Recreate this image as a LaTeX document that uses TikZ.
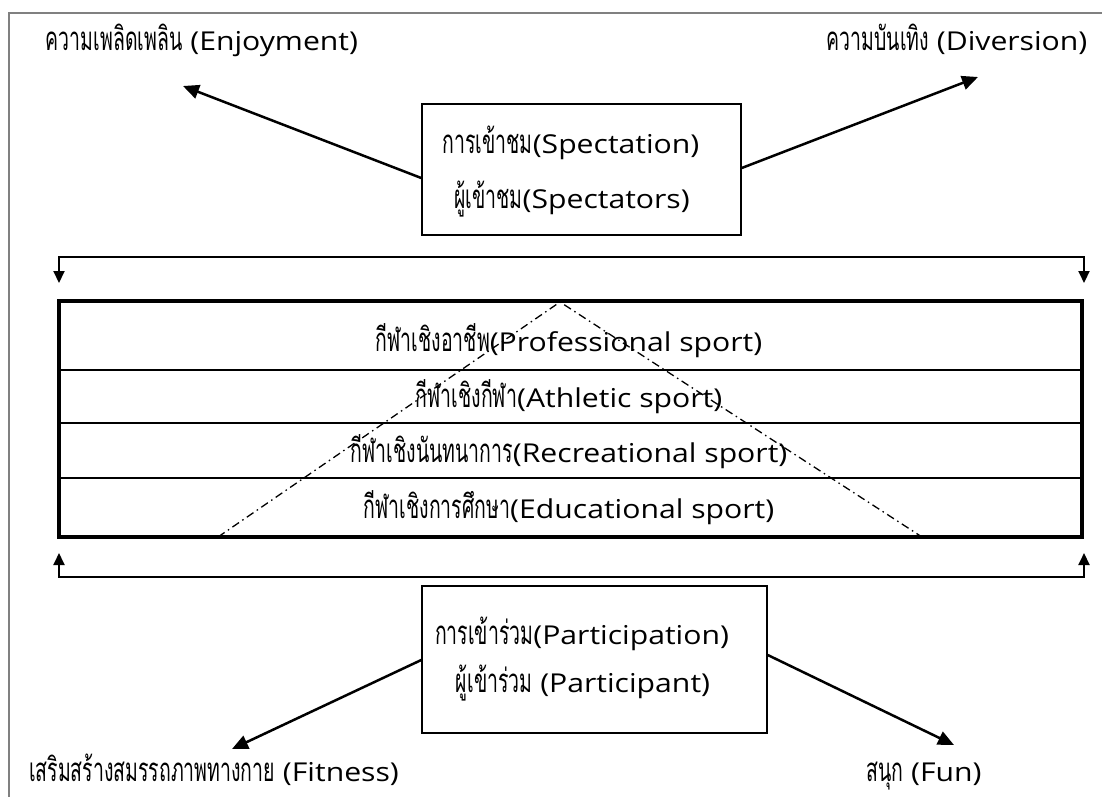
\documentclass[tikz,border=0pt]{standalone}
\usepackage{fontspec}
\newfontfamily\thaifont[Script=Thai,FakeStretch=0.59]{Loma}
\newfontfamily\latfont[FakeStretch=1.16]{Open Sans}
\newcommand\thx[1]{{\thaifont\fontsize{33}{36}\selectfont #1}}
\newcommand\lat[1]{{\latfont\fontsize{26}{30}\selectfont #1}}
\usetikzlibrary{arrows.meta}
\tikzset{
  txt/.style={inner sep=0pt, anchor=base},
  boxnode/.style={draw, line width=1.5pt, inner sep=0pt},
  arr/.style={line width=2.5pt, -{Triangle[length=16pt,width=14pt]}},
  brk/.style={line width=2pt, {Triangle[length=12pt,width=11pt]}-{Triangle[length=12pt,width=11pt]}},
  rowline/.style={line width=1.5pt},
  tri/.style={line width=1.3pt, dash pattern=on 8pt off 4pt on 1.5pt off 4pt},
}
\begin{document}
\begin{tikzpicture}[x=1pt,y=-1pt]
\useasboundingbox (0,0) rectangle (1102,796);
% outer frame (clipped at right and bottom)
\draw[gray, line width=1.5pt] (9,800) -- (9,13) -- (1110,13);

% top texts
\node[txt] (enjoy) at (202,50) {\thx{ความเพลิดเพลิน}\lat{\ (Enjoyment)}};
\node[txt] (divers) at (957,50) {\thx{ความบันเทิง}\lat{\ (Diversion)}};
\coordinate (enjT) at (183,86);
\coordinate (divT) at (978,77);

% spectation box
\node[boxnode, minimum width=319pt, minimum height=131pt] (spect) at (581.5,169.5) {};
\node[txt] (spect1) at (571,153) {\thx{การเข้าชม}\lat{(Spectation)}};
\node[txt] (spect2) at (572,208) {\thx{ผู้เข้าชม}\lat{(Spectators)}};
\draw[arr] ([yshift=-8.5pt]spect.west) -- (enjT);
\draw[arr] ([yshift=1.5pt]spect.east) -- (divT);

% brackets
\coordinate (tbL) at (59,257);
\coordinate (tbR) at (1084,257);
\coordinate (tbLt) at (59,283);
\coordinate (tbRt) at (1084,283);
\draw[brk] (tbLt) -- (tbL) -- (tbR) -- (tbRt);
\coordinate (bbL) at (59,577);
\coordinate (bbR) at (1084,577);
\coordinate (bbLt) at (59,553);
\coordinate (bbRt) at (1084,553);
\draw[brk] (bbLt) -- (bbL) -- (bbR) -- (bbRt);

% pyramid table
\node[draw, line width=4pt, inner sep=0pt, minimum width=1023pt, minimum height=236pt] (table) at (570.5,419) {};
\draw[rowline] (table.west |- 0,370) -- (table.east |- 0,370);
\draw[rowline] (table.west |- 0,423) -- (table.east |- 0,423);
\draw[rowline] (table.west |- 0,478) -- (table.east |- 0,478);
\node[txt] (r1) at (569,351) {\thx{กีฬาเชิงอาชีพ}\lat{(Professional sport)}};
\node[txt] (r2) at (569,407) {\thx{กีฬาเชิงกีฬา}\lat{(Athletic sport)}};
\node[txt] (r3) at (569,462) {\thx{กีฬาเชิงนันทนาการ}\lat{(Recreational sport)}};
\node[txt] (r4) at (569,518) {\thx{กีฬาเชิงการศึกษา}\lat{(Educational sport)}};
\coordinate (triL) at (218,537);
\coordinate (triA) at (560,302);
\coordinate (triR) at (922,537);
\draw[tri] (triL) -- (triA) -- (triR);

% participation box
\node[boxnode, minimum width=345pt, minimum height=147pt] (part) at (594.5,659.5) {};
\node[txt] (part1) at (582,644) {\thx{การเข้าร่วม}\lat{(Participation)}};
\node[txt] (part2) at (583,692) {\thx{ผู้เข้าร่วม}\lat{\ (Participant)}};
\coordinate (fitT) at (232,749);
\coordinate (funT) at (954,745);
\draw[arr] ([yshift=-0.5pt]part.west) -- (fitT);
\draw[arr] ([yshift=4.5pt]part.east) -- (funT);

% bottom texts
\node[txt] (fit) at (214,781) {\thx{เสริมสร้างสมรรถภาพทางกาย}\lat{\ (Fitness)}};
\node[txt] (fun) at (924,781) {\thx{สนุก}\lat{\ (Fun)}};
\end{tikzpicture}
\end{document}
